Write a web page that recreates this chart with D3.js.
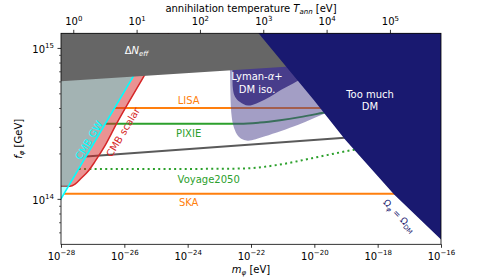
<!DOCTYPE html>
<html>
<head>
<meta charset="utf-8">
<script src="https://cdn.jsdelivr.net/npm/d3@7"></script>
<style>
  body { margin: 0; background: #fff; }
  text { font-family: "DejaVu Sans", sans-serif; }
</style>
</head>
<body>
<div id="graph"></div>
<script>
// every curve is [m_phi (eV), f_phi (GeV)]
var deltaNeff = [[1e-28, 6.01e14], [1e-16, 8.75e14]]
var tooMuchDM = [[6.8e-23, 1.58e15], [1.70e-22, 1.256e15], [9.33e-21, 4.55e14], [9.33e-20, 2.47e14], [3.31e-18, 1.067e14], [1e-16, 5.37e13]]
var cmbGW = [[3.5e-29, 7e13], [1e-28, 1e14], [2.37e-25, 1.585e15]]
var cmbScalar = [[1e-29, 1.21e14], [1e-28, 1.21e14], [1.92e-28, 1.21e14], [2.77e-28, 1.25e14], [4.51e-28, 1.38e14],
  [7.28e-28, 1.53e14], [1.19e-27, 1.77e14], [2.45e-27, 2.25e14], [5.74e-27, 3.16e14], [3.96e-26, 6.38e14], [4.79e-25, 1.585e15]]
var lymanOuter = [[2.17e-23, 9.04e14], [2.17e-23, 7.0e14], [2.45e-23, 3.52e14], [2.9e-23, 2.96e14], [3.97e-23, 2.6e14],
  [5.58e-23, 2.47e14], [8.2e-23, 2.43e14], [2.77e-22, 2.6e14], [3.12e-21, 3.1e14], [2.45e-20, 3.72e14], [9.3e-20, 4.15e14], [9.3e-20, 9.04e14]]
var lymanInner = [[2.61e-23, 9.04e14], [2.61e-23, 6.97e14], [2.7e-23, 5.3e14], [3.13e-23, 4.75e14], [4.5e-23, 4.38e14],
  [8.2e-23, 4.15e14], [2.77e-22, 4.55e14], [9.3e-22, 5.3e14], [2.84e-21, 6.01e14], [1.05e-20, 7.08e14], [1.05e-20, 9.04e14]]

var lisa = [[4.97e-27, 4.0e14], [3e-20, 4.0e14]]
var pixie = [[2.5e-27, 3.14e14], [4.5e-23, 3.14e14], [1.9e-22, 3.2e14], [8.3e-22, 3.32e14], [3.5e-21, 3.48e14], [1.9e-20, 3.72e14], [4.5e-20, 3.85e14]]
var grayLine = [[6.2e-28, 1.91e14], [3.2e-19, 2.59e14]]
var voyage = [[3.63e-28, 1.58e14], [2.45e-24, 1.58e14], [6.45e-23, 1.59e14], [7.13e-22, 1.68e14], [8.43e-21, 1.86e14], [1.92e-19, 2.12e14], [5.75e-19, 2.2e14]]
var ska = [[1.24e-28, 1.08e14], [1e-17, 1.08e14]]

var xTicks = [1e-28, 1e-26, 1e-24, 1e-22, 1e-20, 1e-18, 1e-16]
var yTicks = [1e14, 1e15]
var yMinor = [6e13, 7e13, 8e13, 9e13, 2e14, 3e14, 4e14, 5e14, 6e14, 7e14, 8e14, 9e14]
var tTicks = [1, 10, 100, 1e3, 1e4, 1e5]

function init() {
  var W = 490, H = 280
  var x0 = 61, x1 = 441, y0 = 33.3, y1 = 244.3

  var x = d3.scaleLog().domain([1e-28, 1e-16]).range([x0, x1])
  var y = d3.scaleLog().domain([5e13, 1.25e15]).range([y1, y0])
  var xt = d3.scaleLog().domain([0.64, 6.4e5]).range([x0, x1])

  var svg = d3.select('#graph').append('svg').attr('width', W).attr('height', H)

  svg.append('clipPath').attr('id', 'clip')
    .append('rect').attr('x', x0).attr('y', y0).attr('width', x1 - x0).attr('height', y1 - y0)

  var plot = svg.append('g').attr('clip-path', 'url(#clip)')

  var line = d3.line().x(d => x(d[0])).y(d => y(d[1]))
  var smooth = d3.line().x(d => x(d[0])).y(d => y(d[1])).curve(d3.curveMonotoneX)
  var blob = d3.line().x(d => x(d[0])).y(d => y(d[1])).curve(d3.curveCatmullRomClosed.alpha(0.5))

  var xLo = x.domain()[0] / 10, xHi = x.domain()[1] * 10
  var yLo = y.domain()[0] / 2, yHi = y.domain()[1] * 2

  // experiment sensitivity lines (under the shaded regions)
  function expLine(data, color, dash) {
    plot.append('path').attr('d', smooth(data))
      .attr('fill', 'none').attr('stroke', color).attr('stroke-width', 2)
      .attr('stroke-dasharray', dash || null)
  }
  expLine(lisa, '#ff7f0e')
  expLine(pixie, '#2ca02c')
  expLine(grayLine, '#5a5a5a')
  expLine(voyage, '#2ca02c', '2,3.3')
  expLine(ska, '#ff7f0e')

  // CMB scalar
  plot.append('path')
    .attr('d', line(cmbScalar.concat([[xLo, yHi]])) + 'Z')
    .attr('fill', '#d62728').attr('fill-opacity', 0.5)
  plot.append('path').attr('d', smooth(cmbScalar))
    .attr('fill', 'none').attr('stroke', '#d62728').attr('stroke-width', 1.5)

  // CMB GW
  plot.append('path')
    .attr('d', line(cmbGW.concat([[xLo, yHi], [xLo, cmbGW[0][1]]])) + 'Z')
    .attr('fill', '#00ffff').attr('fill-opacity', 0.3)
  plot.append('path').attr('d', line(cmbGW))
    .attr('fill', 'none').attr('stroke', '#00ffff').attr('stroke-width', 1.6)

  // Lyman-alpha + DM isocurvature
  plot.append('path').attr('d', blob(lymanOuter)).attr('fill', '#483d8b').attr('fill-opacity', 0.5)
  plot.append('path').attr('d', blob(lymanInner)).attr('fill', '#483d8b')

  // Delta N_eff
  plot.append('path')
    .attr('d', line([[xLo, yHi], [xLo, deltaNeff[0][1]]].concat(deltaNeff, [[xHi, deltaNeff[1][1]], [xHi, yHi]])) + 'Z')
    .attr('fill', '#666666')

  // too much DM
  plot.append('path')
    .attr('d', line(tooMuchDM.concat([[xHi, yLo], [xHi, yHi]])) + 'Z')
    .attr('fill', '#191970')

  // text helper: parts are [string, kind] with kind in '', 'i', 'sub', 'subi', 'sup'
  function math(sel, parts, size) {
    var shift = 0
    parts.forEach(function (p) {
      var s = p[0], k = p[1] || ''
      var small = k === 'sub' || k === 'subi' || k === 'sup'
      var target = (k === 'sub' || k === 'subi') ? size * 0.22 : k === 'sup' ? -size * 0.45 : 0
      var ts = sel.append('tspan').text(s)
      if (target - shift !== 0) ts.attr('dy', target - shift)
      shift = target
      if (small) ts.attr('font-size', size * 0.7)
      if (k === 'i' || k === 'subi') ts.attr('font-style', 'italic')
    })
    return sel
  }

  function label(px, py, parts, color, size, rot) {
    var t = svg.append('text')
      .attr('transform', 'translate(' + px + ',' + py + ')' + (rot ? ' rotate(' + rot + ')' : ''))
      .attr('text-anchor', 'middle').attr('fill', color).attr('font-size', size)
    return math(t, parts, size)
  }

  var lblX = x(1e-24) + 1
  label(lblX, y(lisa[0][1]) - 3.5, [['LISA']], '#ff7f0e', 10)
  label(lblX, y(pixie[0][1]) + 12.7, [['PIXIE']], '#2ca02c', 10)
  label(x(1e-24) + 21, y(voyage[0][1]) + 13.7, [['Voyage2050']], '#2ca02c', 10)
  label(lblX, y(ska[0][1]) + 11.7, [['SKA']], '#ff7f0e', 10)

  label(136.5, 53.5, [['Δ'], ['N', 'i'], ['eff', 'subi']], '#fff', 10)
  label(257, 80, [['Lyman-'], ['α', 'i'], ['+']], '#fff', 10)
  label(257, 93, [['DM iso.']], '#fff', 10)
  label(370, 98.3, [['Too much']], '#fff', 10)
  label(370, 109.5, [['DM']], '#fff', 10)

  label(92, 142, [['CMB GW']], '#00ffff', 10, -59)
  label(126, 134, [['CMB scalar']], '#d62728', 10, -59)
  label(397, 218, [['Ω'], ['φ', 'subi'], [' = '], ['Ω'], ['DM', 'sub']], '#191970', 9, 47)

  // axes
  function styleAxis(g) {
    g.select('.domain').remove()
    g.selectAll('.tick line').attr('stroke', '#000').attr('stroke-width', 0.8)
    g.selectAll('.tick text').remove()
  }
  function powLabel(sel, e) {
    math(sel, [['10'], [(e < 0 ? '−' : '') + Math.abs(e), 'sup']], 10)
  }

  var gx = svg.append('g').attr('transform', 'translate(0,' + y1 + ')')
    .call(d3.axisBottom(x).tickValues(xTicks).tickSize(3.5).tickFormat(''))
  styleAxis(gx)
  gx.selectAll('.tick').append('text').attr('y', 15.7).attr('text-anchor', 'middle')
    .attr('fill', '#000').attr('font-size', 10)
    .each(function (d) { powLabel(d3.select(this), Math.round(Math.log10(d))) })

  var gy = svg.append('g').attr('transform', 'translate(' + x0 + ',0)')
    .call(d3.axisLeft(y).tickValues(yTicks).tickSize(3.5).tickFormat(''))
  styleAxis(gy)
  gy.selectAll('.tick').append('text').attr('x', -7).attr('y', 4.5).attr('text-anchor', 'end')
    .attr('fill', '#000').attr('font-size', 10)
    .each(function (d) { powLabel(d3.select(this), Math.round(Math.log10(d))) })

  var gyMinor = svg.append('g').attr('transform', 'translate(' + x0 + ',0)')
    .call(d3.axisLeft(y).tickValues(yMinor).tickSize(2).tickFormat(''))
  styleAxis(gyMinor)
  gyMinor.selectAll('.tick line').attr('stroke-width', 0.6)

  var gt = svg.append('g').attr('transform', 'translate(0,' + y0 + ')')
    .call(d3.axisTop(xt).tickValues(tTicks).tickSize(3.5).tickFormat(''))
  styleAxis(gt)
  gt.selectAll('.tick').append('text').attr('y', -8.3).attr('text-anchor', 'middle')
    .attr('fill', '#000').attr('font-size', 10)
    .each(function (d) { powLabel(d3.select(this), Math.round(Math.log10(d))) })

  svg.append('rect').attr('x', x0).attr('y', y0).attr('width', x1 - x0).attr('height', y1 - y0)
    .attr('fill', 'none').attr('stroke', '#000').attr('stroke-width', 0.8)

  // axis titles
  label((x0 + x1) / 2, 273, [['m', 'i'], ['φ', 'subi'], [' [eV]']], '#000', 10)
  label((x0 + x1) / 2, 12, [['annihilation temperature '], ['T', 'i'], ['ann', 'subi'], [' [eV]']], '#000', 10)
  label(22, (y0 + y1) / 2, [['f', 'i'], ['φ', 'subi'], [' [GeV]']], '#000', 10, -90)
}

init()
</script>
</body>
</html>
